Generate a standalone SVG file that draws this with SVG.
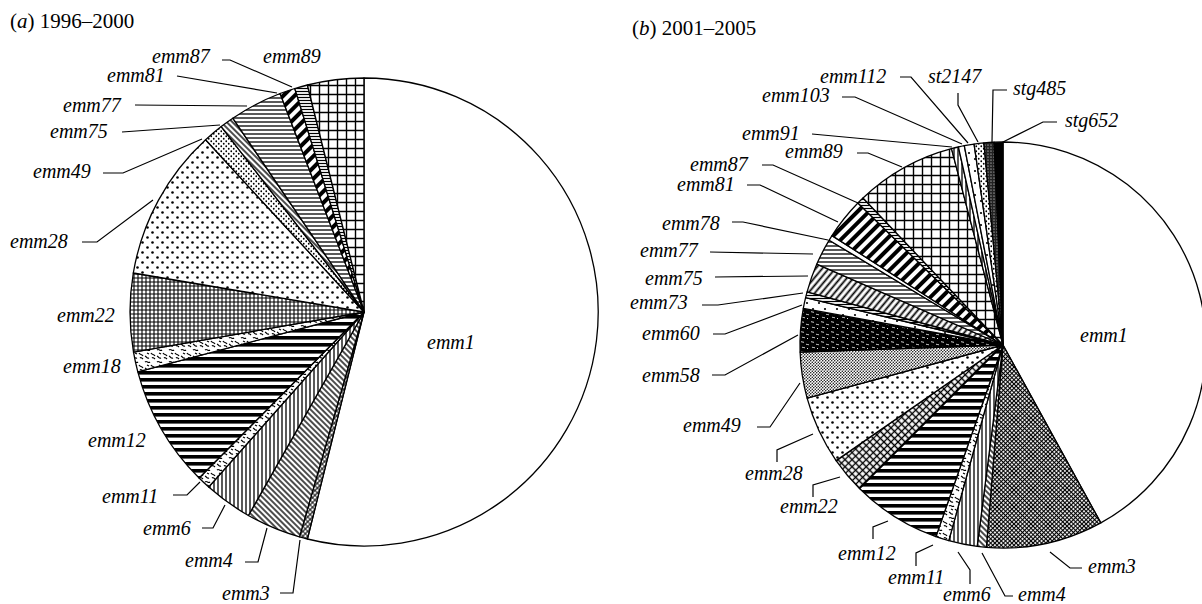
<svg xmlns="http://www.w3.org/2000/svg" width="1202" height="604" viewBox="0 0 1202 604">
<style>
text{font-family:"Liberation Serif","Times New Roman",serif;font-style:italic;font-size:20px;fill:#000}
.title{font-style:normal;font-size:21px}
.title tspan.i{font-style:italic}
.s{stroke:#000;stroke-width:1.3;stroke-linejoin:round}
.ld{fill:none;stroke:#000;stroke-width:1.2}
</style>
<defs>
<pattern id="gridL" width="9" height="9" patternUnits="userSpaceOnUse"><rect width="9" height="9" fill="#fff"/><path d="M0 4.5H9M4.5 0V9" stroke="#000" stroke-width="1.4"/></pattern>
<pattern id="gridS" width="4" height="4" patternUnits="userSpaceOnUse"><rect width="4" height="4" fill="#fff"/><path d="M0 2H4M2 0V4" stroke="#000" stroke-width="1.1"/></pattern>
<pattern id="dotsL" width="10" height="10" patternUnits="userSpaceOnUse"><rect width="10" height="10" fill="#fff"/><circle cx="2.5" cy="2.5" r="1.3"/><circle cx="7.5" cy="7.5" r="1.3"/></pattern>
<pattern id="dotsS" width="5" height="5" patternUnits="userSpaceOnUse"><rect width="5" height="5" fill="#fff"/><circle cx="1.25" cy="1.25" r="0.9"/><circle cx="3.75" cy="3.75" r="0.9"/></pattern>
<pattern id="dotsD" width="3" height="3" patternUnits="userSpaceOnUse"><rect width="3" height="3" fill="#fff"/><circle cx="0.75" cy="0.75" r="0.75"/><circle cx="2.25" cy="2.25" r="0.75"/></pattern>
<pattern id="dotsSp" width="12" height="12" patternUnits="userSpaceOnUse"><rect width="12" height="12" fill="#fff"/><circle cx="3" cy="3" r="1.1"/><circle cx="9" cy="9" r="1.1"/></pattern>
<pattern id="hThick" width="8" height="7" patternUnits="userSpaceOnUse"><rect width="8" height="7" fill="#fff"/><rect y="0" width="8" height="3.6" fill="#000"/></pattern>
<pattern id="hLines" width="8" height="4" patternUnits="userSpaceOnUse"><rect width="8" height="4" fill="#fff"/><path d="M0 2H8" stroke="#000" stroke-width="1.3"/></pattern>
<pattern id="hFine" width="8" height="3" patternUnits="userSpaceOnUse"><rect width="8" height="3" fill="#fff"/><path d="M0 1.5H8" stroke="#000" stroke-width="1.2"/></pattern>
<pattern id="vLines" width="4" height="8" patternUnits="userSpaceOnUse"><rect width="4" height="8" fill="#fff"/><path d="M2 0V8" stroke="#000" stroke-width="1.3"/></pattern>
<pattern id="diagB" width="4" height="8" patternUnits="userSpaceOnUse" patternTransform="rotate(-45)"><rect width="4" height="8" fill="#fff"/><path d="M2 0V8" stroke="#000" stroke-width="1.4"/></pattern>
<pattern id="diagF" width="5" height="8" patternUnits="userSpaceOnUse" patternTransform="rotate(40)"><rect width="5" height="8" fill="#fff"/><path d="M2.5 0V8" stroke="#000" stroke-width="1.8"/></pattern>
<pattern id="xFine" width="3.4" height="3.4" patternUnits="userSpaceOnUse" patternTransform="rotate(45)"><rect width="3.4" height="3.4" fill="#fff"/><path d="M0 1.7H3.4M1.7 0V3.4" stroke="#000" stroke-width="1"/></pattern>
<pattern id="xDark" width="3" height="3" patternUnits="userSpaceOnUse" patternTransform="rotate(45)"><rect width="3" height="3" fill="#fff"/><path d="M0 1.5H3M1.5 0V3" stroke="#000" stroke-width="1.2"/></pattern>
<pattern id="xMed" width="5" height="5" patternUnits="userSpaceOnUse" patternTransform="rotate(45)"><rect width="5" height="5" fill="#fff"/><path d="M0 2.5H5M2.5 0V5" stroke="#000" stroke-width="1.3"/></pattern>
<pattern id="bars" width="8" height="8" patternUnits="userSpaceOnUse" patternTransform="rotate(45)"><rect width="8" height="8" fill="#fff"/><path d="M4 0V8" stroke="#000" stroke-width="4"/></pattern>
<pattern id="squig" width="12" height="12" patternUnits="userSpaceOnUse"><rect width="12" height="12" fill="#fff"/><path d="M1 2c2-2 3 2 5 0M7 5c1 2 3 1 4 3M1 8c2 1 2 3 4 2M8 10c1-1 2 0 3 1M3 5l2 1" fill="none" stroke="#000" stroke-width="1.2"/></pattern>
<pattern id="squigD" width="10" height="10" patternUnits="userSpaceOnUse"><rect width="10" height="10" fill="#000"/><path d="M1 2c1-1 2 1 3 0M6 4c1 1 2 0 3 1M2 7c1 1 2 0 3 1M7 8l1 1" fill="none" stroke="#fff" stroke-width="0.9"/></pattern>
<pattern id="stipD" width="3" height="3" patternUnits="userSpaceOnUse"><rect width="3" height="3" fill="#222"/><circle cx="1" cy="1" r="0.6" fill="#fff"/></pattern>
</defs>

<text class="title" x="10" y="28">(<tspan class="i">a</tspan>) 1996–2000</text>
<text class="title" x="632" y="35">(<tspan class="i">b</tspan>) 2001–2005</text>

<g id="pie-a">
<g id="a-emm1"><path class="s" fill="#fff" d="M364 312L364 78A234 234 0 1 1 307.4 539Z"/><text x="427" y="349">emm1</text></g>
<g id="a-emm3"><path class="s" fill="url(#xFine)" d="M364 312L307.4 539A234 234 0 0 1 299.5 536.9Z"/><text x="222" y="600">emm3</text></g>
<g id="a-emm4"><path class="s" fill="url(#diagB)" d="M364 312L299.5 536.9A234 234 0 0 1 248.4 515.5Z"/><text x="185" y="567">emm4</text></g>
<g id="a-emm6"><path class="s" fill="url(#vLines)" d="M364 312L248.4 515.5A234 234 0 0 1 208.7 487Z"/><text x="143" y="535">emm6</text></g>
<g id="a-emm11"><path class="s" fill="url(#squig)" d="M364 312L208.7 487A234 234 0 0 1 199.1 478Z"/><text x="102" y="503">emm11</text></g>
<g id="a-emm12"><path class="s" fill="url(#hThick)" d="M364 312L199.1 478A234 234 0 0 1 137.8 371.8Z"/><text x="88" y="447">emm12</text></g>
<g id="a-emm18"><path class="s" fill="url(#squig)" d="M364 312L137.8 371.8A234 234 0 0 1 133.5 352.2Z"/><text x="63" y="373">emm18</text></g>
<g id="a-emm22"><path class="s" fill="url(#gridS)" d="M364 312L133.5 352.2A234 234 0 0 1 133.3 273Z"/><text x="57" y="322">emm22</text></g>
<g id="a-emm28"><path class="s" fill="url(#dotsL)" d="M364 312L133.3 273A234 234 0 0 1 205.6 139.8Z"/><text x="10" y="248">emm28</text></g>
<g id="a-emm49"><path class="s" fill="url(#dotsS)" d="M364 312L205.6 139.8A234 234 0 0 1 221.2 126.6Z"/><text x="33" y="178">emm49</text></g>
<g id="a-emm75"><path class="s" fill="url(#diagB)" d="M364 312L221.2 126.6A234 234 0 0 1 232.8 118.2Z"/><text x="50" y="138">emm75</text></g>
<g id="a-emm77"><path class="s" fill="url(#hLines)" d="M364 312L232.8 118.2A234 234 0 0 1 280.1 93.5Z"/><text x="63" y="112">emm77</text></g>
<g id="a-emm81"><path class="s" fill="url(#bars)" d="M364 312L280.1 93.5A234 234 0 0 1 294.8 88.5Z"/><text x="107" y="82">emm81</text></g>
<g id="a-emm87"><path class="s" fill="url(#hFine)" d="M364 312L294.8 88.5A234 234 0 0 1 307.4 85Z"/><text x="152" y="63">emm87</text></g>
<g id="a-emm89"><path class="s" fill="url(#gridL)" d="M364 312L307.4 85A234 234 0 0 1 364 78Z"/><text x="263" y="63">emm89</text></g>
</g>

<g id="pie-b">
<g id="b-emm1"><path class="s" fill="#fff" d="M1003 345L1003 142A203 203 0 0 1 1100.8 522.9Z"/><text x="1080" y="342">emm1</text></g>
<g id="b-emm3"><path class="s" fill="url(#xDark)" d="M1003 345L1100.8 522.9A203 203 0 0 1 986.4 547.3Z"/><text x="1088" y="573">emm3</text></g>
<g id="b-emm4"><path class="s" fill="url(#diagB)" d="M1003 345L986.4 547.3A203 203 0 0 1 977.2 546.4Z"/><text x="1018" y="601">emm4</text></g>
<g id="b-emm6"><path class="s" fill="url(#vLines)" d="M1003 345L977.2 546.4A203 203 0 0 1 948.8 540.6Z"/><text x="943" y="601">emm6</text></g>
<g id="b-emm11"><path class="s" fill="url(#squig)" d="M1003 345L948.8 540.6A203 203 0 0 1 935.9 536.6Z"/><text x="888" y="584">emm11</text></g>
<g id="b-emm12"><path class="s" fill="url(#hThick)" d="M1003 345L935.9 536.6A203 203 0 0 1 859.5 488.5Z"/><text x="838" y="560">emm12</text></g>
<g id="b-emm22"><path class="s" fill="url(#xMed)" d="M1003 345L859.5 488.5A203 203 0 0 1 836.1 460.6Z"/><text x="780" y="513">emm22</text></g>
<g id="b-emm28"><path class="s" fill="url(#dotsL)" d="M1003 345L836.1 460.6A203 203 0 0 1 807.1 398.2Z"/><text x="745" y="480">emm28</text></g>
<g id="b-emm49"><path class="s" fill="url(#dotsD)" d="M1003 345L807.1 398.2A203 203 0 0 1 800.1 352.1Z"/><text x="683" y="432">emm49</text></g>
<g id="b-emm58"><path class="s" fill="url(#squigD)" d="M1003 345L800.1 352.1A203 203 0 0 1 803.3 308.4Z"/><text x="642" y="382">emm58</text></g>
<g id="b-emm60"><path class="s" fill="url(#dotsSp)" d="M1003 345L803.3 308.4A203 203 0 0 1 805.6 297.6Z"/><text x="642" y="340">emm60</text></g>
<g id="b-emm73"><path class="s" fill="url(#hFine)" d="M1003 345L805.6 297.6A203 203 0 0 1 807.1 291.8Z"/><text x="630" y="309">emm73</text></g>
<g id="b-emm75"><path class="s" fill="url(#diagF)" d="M1003 345L807.1 291.8A203 203 0 0 1 816.8 264.1Z"/><text x="645" y="285">emm75</text></g>
<g id="b-emm77"><path class="s" fill="url(#hLines)" d="M1003 345L816.8 264.1A203 203 0 0 1 829.2 240.2Z"/><text x="640" y="257">emm77</text></g>
<g id="b-emm78"><path class="s" fill="#fff" stroke-width="2" d="M1003 345L829.2 240.2A203 203 0 0 1 832 235.6Z"/><text x="662" y="230">emm78</text></g>
<g id="b-emm81"><path class="s" fill="url(#bars)" d="M1003 345L832 235.6A203 203 0 0 1 857.9 203Z"/><text x="677" y="191">emm81</text></g>
<g id="b-emm87"><path class="s" fill="url(#hFine)" d="M1003 345L857.9 203A203 203 0 0 1 863 198Z"/><text x="690" y="171">emm87</text></g>
<g id="b-emm89"><path class="s" fill="url(#gridL)" d="M1003 345L863 198A203 203 0 0 1 951.5 148.6Z"/><text x="785" y="158">emm89</text></g>
<g id="b-emm91"><path class="s" fill="url(#vLines)" d="M1003 345L951.5 148.6A203 203 0 0 1 958.4 147Z"/><text x="742" y="140">emm91</text></g>
<g id="b-emm103"><path class="s" fill="#fff" d="M1003 345L958.4 147A203 203 0 0 1 964.3 145.7Z"/><text x="762" y="102">emm103</text></g>
<g id="b-emm112"><path class="s" fill="url(#dotsSp)" d="M1003 345L964.3 145.7A203 203 0 0 1 974.1 144.1Z"/><text x="820" y="83">emm112</text></g>
<g id="b-st2147"><path class="s" fill="url(#dotsS)" d="M1003 345L974.1 144.1A203 203 0 0 1 983.9 142.9Z"/><text x="928" y="83">st2147</text></g>
<g id="b-stg485"><path class="s" fill="url(#stipD)" d="M1003 345L983.9 142.9A203 203 0 0 1 994.1 142.2Z"/><text x="1013" y="95">stg485</text></g>
<g id="b-stg652"><path class="s" fill="#000" d="M1003 345L994.1 142.2A203 203 0 0 1 1003 142Z"/><text x="1065" y="127">stg652</text></g>
</g>

<g id="connectors">
<path class="ld" d="M222 60H230L292 87"/>
<path class="ld" d="M177 76L277 93"/>
<path class="ld" d="M135 105L247 106"/>
<path class="ld" d="M122 132L220 125"/>
<path class="ld" d="M103 173H123L202 139"/>
<path class="ld" d="M82 242H97L153 200"/>
<path class="ld" d="M173 495H187L200 482"/>
<path class="ld" d="M202 528H213L225 505"/>
<path class="ld" d="M245 562H258L267 528"/>
<path class="ld" d="M280 593H293L300 540"/>
<path class="ld" d="M900 77H911L968 143"/>
<path class="ld" d="M958 93V105L978 142"/>
<path class="ld" d="M1007 90H993L992 142"/>
<path class="ld" d="M1057 122H1043L1003 142"/>
<path class="ld" d="M842 97H855L962 144"/>
<path class="ld" d="M812 134L952 147"/>
<path class="ld" d="M857 153H868L902 167"/>
<path class="ld" d="M762 165H773L858 203"/>
<path class="ld" d="M747 185H760L838 222"/>
<path class="ld" d="M732 222H743L828 240"/>
<path class="ld" d="M710 252L813 254"/>
<path class="ld" d="M715 277L808 276"/>
<path class="ld" d="M702 305H718L803 293"/>
<path class="ld" d="M713 334H725L802 305"/>
<path class="ld" d="M712 375H725L798 335"/>
<path class="ld" d="M757 427H770L800 383"/>
<path class="ld" d="M777 462V450L813 434"/>
<path class="ld" d="M813 497V485L840 477"/>
<path class="ld" d="M873 539V527L888 521"/>
<path class="ld" d="M916 566V553L933 545"/>
<path class="ld" d="M970 584V570L958 552"/>
<path class="ld" d="M1013 596H1005L982 553"/>
<path class="ld" d="M1082 568H1070L1050 552"/>
</g>
</svg>
